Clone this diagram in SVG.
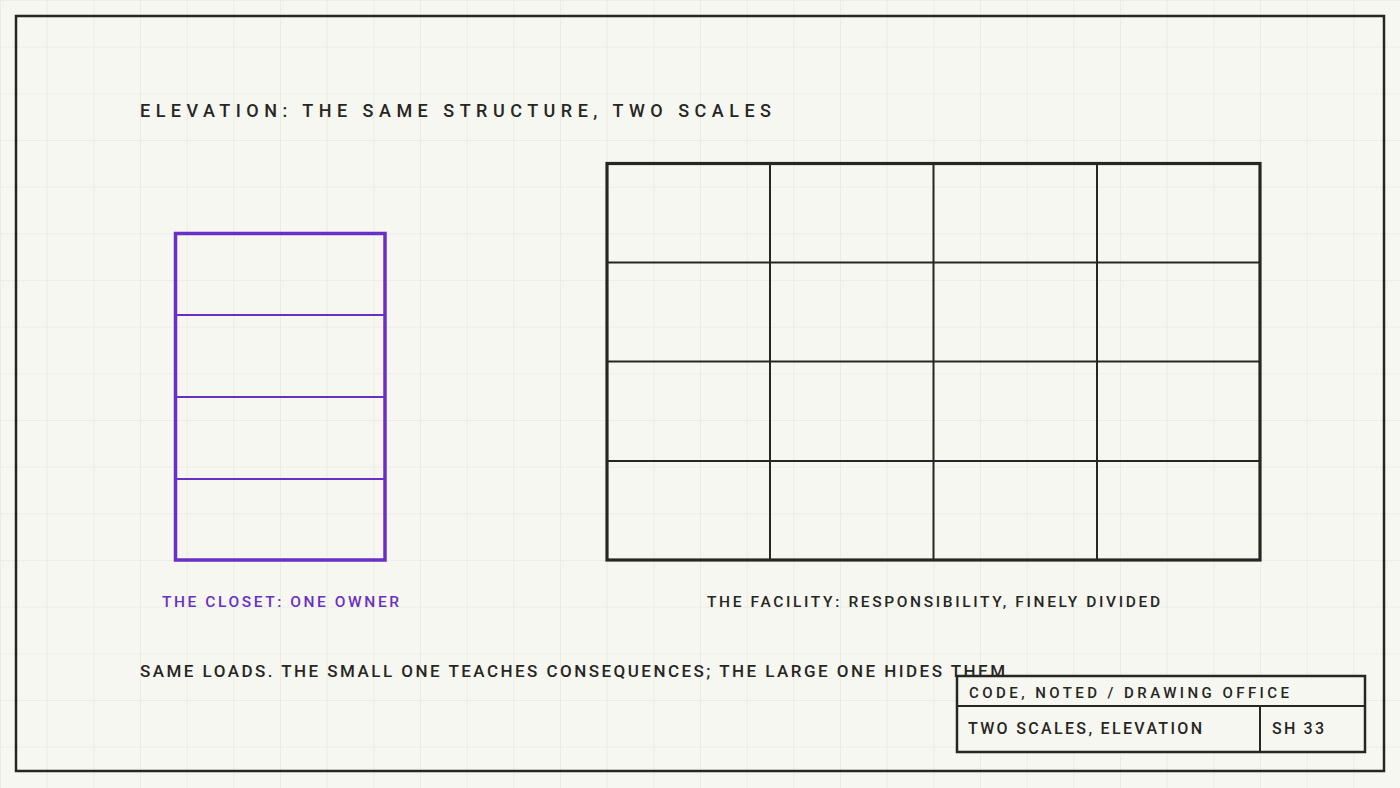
<svg xmlns="http://www.w3.org/2000/svg" width="1400" height="788" viewBox="0 0 1400 788">
<defs>
<pattern id="grid" x="0" y="0" width="46.6667" height="46.6667" patternUnits="userSpaceOnUse">
<path d="M 0 0 L 46.6667 0 M 0 0 L 0 46.6667" fill="none" stroke="#e4e4de" stroke-width="1.2"/>
</pattern>
<style>
.ink{fill:none;stroke:#262622}
.pur{fill:none;stroke:#6a2fc4}
.t{font-family:Roboto,"Liberation Sans",sans-serif;fill:#262622;font-weight:500}
.tp{font-family:Roboto,"Liberation Sans",sans-serif;fill:#6a2fc4;font-weight:500}
</style>
</defs>
<rect x="0" y="0" width="1400" height="788" fill="#f7f7f2"/>
<rect x="0" y="0" width="1400" height="788" fill="url(#grid)"/>
<rect id="frame" x="16" y="16" width="1368" height="755" class="ink" stroke-width="2.5"/>
<text id="title" class="t" x="140" y="117" font-size="18" textLength="631" lengthAdjust="spacing">ELEVATION: THE SAME STRUCTURE, TWO SCALES</text>
<g id="closet">
<rect x="175.5" y="233.5" width="209.5" height="326.5" class="pur" stroke-width="3.5"/>
<path d="M175.5 315H385M175.5 397H385M175.5 479H385" class="pur" stroke-width="2"/>
<text class="tp" x="162" y="607" font-size="15.5" textLength="237" lengthAdjust="spacing">THE CLOSET: ONE OWNER</text>
</g>
<g id="facility">
<rect x="607" y="163.5" width="653" height="396.5" class="ink" stroke-width="3.2"/>
<path d="M770 163.5V560M933.5 163.5V560M1097 163.5V560M607 262.5H1260M607 361.5H1260M607 461H1260" class="ink" stroke-width="2"/>
<text class="t" x="707" y="607" font-size="15.5" textLength="453" lengthAdjust="spacing">THE FACILITY: RESPONSIBILITY, FINELY DIVIDED</text>
</g>
<g id="connectors"></g>
<text id="note" class="t" x="140" y="677" font-size="17" textLength="865" lengthAdjust="spacing">SAME LOADS. THE SMALL ONE TEACHES CONSEQUENCES; THE LARGE ONE HIDES THEM</text>
<g id="titleblock">
<rect x="957" y="676" width="408" height="76" fill="#f7f7f2" stroke="#262622" stroke-width="2.5"/>
<path d="M957 706H1365M1260 706V752" class="ink" stroke-width="2"/>
<text class="t" x="969" y="698" font-size="15" textLength="320" lengthAdjust="spacing">CODE, NOTED / DRAWING OFFICE</text>
<text class="t" x="968" y="734" font-size="16" textLength="234" lengthAdjust="spacing">TWO SCALES, ELEVATION</text>
<text class="t" x="1272" y="734" font-size="16" textLength="52" lengthAdjust="spacing">SH 33</text>
</g>
</svg>
